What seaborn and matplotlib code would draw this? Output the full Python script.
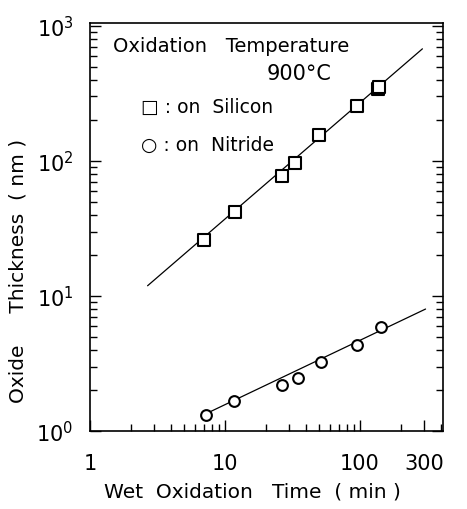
import numpy as np
import pandas as pd
import matplotlib
matplotlib.use("Agg")
import matplotlib.pyplot as plt
import seaborn as sns
from matplotlib.ticker import LogLocator, FixedLocator, FixedFormatter, NullFormatter

# measured points (min, nm)
si_time = [7.0, 11.8, 26.3, 33.0, 50.0, 95.0, 135.0, 139.0]
si_thick = [26.0, 42.0, 77.0, 97.0, 156.0, 255.0, 343.0, 352.0]
ni_time = [7.2, 11.6, 26.3, 34.5, 51.7, 95.0, 142.0]
ni_thick = [1.31, 1.67, 2.19, 2.47, 3.24, 4.34, 5.9]

# fitted lines, end points
si_fit_time = [2.67, 290.0]
si_fit_thick = [11.9, 676.0]
ni_fit_time = [7.2, 306.0]
ni_fit_thick = [1.34, 8.0]

x_ticks = [1, 10, 100, 300]
x_labels = ["1", "10", "100", "300"]
y_ticks = [1, 10, 100, 1000]
y_labels = [r"$10^0$", r"$10^1$", r"$10^2$", r"$10^3$"]

sns.set_style("ticks")
plt.rcParams["font.family"] = ["DejaVu Sans"]
plt.rcParams["text.color"] = "black"
plt.rcParams["axes.labelcolor"] = "black"

fig = plt.figure(figsize=(4.67, 5.10), dpi=100)
ax = fig.add_axes([90 / 467, 78 / 510, 353 / 467, 408 / 510])

si = pd.DataFrame({"t": si_time, "d": si_thick})
ni = pd.DataFrame({"t": ni_time, "d": ni_thick})
si_fit = pd.DataFrame({"t": si_fit_time, "d": si_fit_thick})
ni_fit = pd.DataFrame({"t": ni_fit_time, "d": ni_fit_thick})

sns.lineplot(data=si_fit, x="t", y="d", ax=ax, color="black", lw=0.9)
sns.lineplot(data=ni_fit, x="t", y="d", ax=ax, color="black", lw=0.9)
sns.scatterplot(data=si, x="t", y="d", ax=ax, marker="s", s=85,
                facecolor="white", edgecolor="black", linewidth=1.5, zorder=3)
sns.scatterplot(data=ni, x="t", y="d", ax=ax, marker="o", s=60,
                facecolor="white", edgecolor="black", linewidth=1.5, zorder=3)

ax.set_xscale("log")
ax.set_yscale("log")
ax.set_xlim(1, 412)
ax.set_ylim(1, 1050)

ax.xaxis.set_major_locator(FixedLocator(x_ticks))
ax.xaxis.set_major_formatter(FixedFormatter(x_labels))
ax.xaxis.set_minor_locator(LogLocator(base=10, subs=np.arange(2, 10)))
ax.xaxis.set_minor_formatter(NullFormatter())
ax.yaxis.set_major_locator(FixedLocator(y_ticks))
ax.yaxis.set_major_formatter(FixedFormatter(y_labels))
ax.yaxis.set_minor_locator(LogLocator(base=10, subs=np.arange(2, 10)))
ax.yaxis.set_minor_formatter(NullFormatter())

ax.tick_params(axis="both", which="both", direction="in", colors="black",
               top=False, right=True, width=1.0)
ax.tick_params(axis="both", which="major", length=8, labelsize=15)
ax.tick_params(axis="both", which="minor", length=5)
ax.tick_params(axis="x", which="major", pad=16)
ax.tick_params(axis="y", which="major", pad=12)
for sp in ax.spines.values():
    sp.set_color("black")
    sp.set_linewidth(1.2)

ax.set_xlabel("Wet  Oxidation   Time  ( min )", fontsize=14.5)
ax.set_ylabel("Oxide     Thickness  ( nm )", fontsize=14.5)
ax.xaxis.set_label_coords(0.46, -0.125)
ax.yaxis.set_label_coords(-0.178, 0.395)

ax.text(0.066, 0.945, "Oxidation   Temperature", transform=ax.transAxes,
        fontsize=14, va="center", ha="left")
ax.text(0.50, 0.878, "900°C", transform=ax.transAxes,
        fontsize=15, va="center", ha="left")
ax.text(0.145, 0.795, "\u25a1 : on  Silicon", transform=ax.transAxes,
        fontsize=13.5, va="center", ha="left")
ax.text(0.145, 0.703, "\u25cb : on  Nitride", transform=ax.transAxes,
        fontsize=13.5, va="center", ha="left")

fig.savefig("out.png", dpi=100)
